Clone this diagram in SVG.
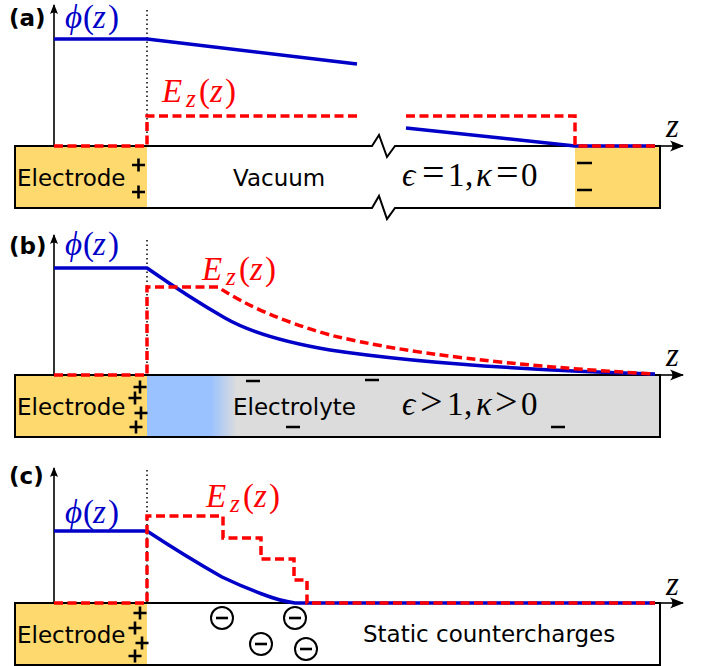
<svg xmlns="http://www.w3.org/2000/svg" width="703" height="666" viewBox="0 0 703 666">
<defs>
<style>
.box{fill:none;stroke:#000;stroke-width:2}
.elec{fill:#FDD96E}
.ax{fill:none;stroke:#000;stroke-width:1.6}
.dot{fill:none;stroke:#000;stroke-width:1.5;stroke-dasharray:1.5 3}
.phi{fill:none;stroke:#0000C8;stroke-width:3.5;stroke-linejoin:round}
.ef{fill:none;stroke:#FF0000;stroke-width:3.5;stroke-dasharray:9 4.5}
.sign{fill:none;stroke:#000;stroke-width:2.6}
.circ{fill:none;stroke:#000;stroke-width:2}
.lbl{font-family:"DejaVu Sans",Verdana,sans-serif;font-size:23px;fill:#000}
.pl{font-family:"DejaVu Sans",sans-serif;font-size:23px;font-weight:bold;fill:#000}
.m{font-family:"Liberation Serif","DejaVu Serif",serif;font-size:33px}
.it{font-style:italic}
.rel{font-size:40px}
.blue{fill:#0000C8}
.red{fill:#FF0000}
</style>
<marker id="arr" viewBox="-14 -6 16 12" refX="0" refY="0" markerWidth="16" markerHeight="12" markerUnits="userSpaceOnUse" orient="auto">
<path d="M1,0 L-13,-5.5 Q-8,0 -13,5.5 Z" fill="#000"/>
</marker>
<marker id="arrS" viewBox="-10 -5 12 10" refX="0" refY="0" markerWidth="12" markerHeight="10" markerUnits="userSpaceOnUse" orient="auto">
<path d="M1,0 L-9,-4 Q-6,0 -9,4 Z" fill="#000"/>
</marker>
<linearGradient id="grad" x1="147" y1="0" x2="660" y2="0" gradientUnits="userSpaceOnUse">
<stop offset="0" stop-color="#99C2FF"/>
<stop offset="0.123" stop-color="#99C2FF"/>
<stop offset="0.175" stop-color="#DCDCDC"/>
<stop offset="1" stop-color="#DCDCDC"/>
</linearGradient>
</defs>

<!-- Panel (a) -->
<g id="panel-a">
<g id="a-regions">
<path d="M15,146 L372,146 L379,135 L387,157 L395,146 L660,146 L660,208 L395,208 L387,219 L379,196 L372,208 L15,208 Z" fill="#fff"/>
<rect class="elec" x="15" y="146" width="132" height="62"/>
<rect class="elec" x="575" y="146" width="85" height="62"/>
<path class="box" d="M15,146 L372,146 L379,135 L387,157 L395,146 L660,146 L660,208 L395,208 L387,219 L379,196 L372,208 L15,208 Z"/>
</g>
<g id="a-axes">
<path class="ax" d="M54,146 V5" marker-end="url(#arrS)"/>
<path class="ax" d="M660,146 H683" marker-end="url(#arr)"/>
<path class="dot" d="M147,10 V146"/>
</g>
<g id="a-curves">
<path class="phi" d="M54,39 L147,39 L357,64"/>
<path class="phi" d="M406,128 L575,146 L655,146"/>
<path class="ef" d="M54,146 L147,146 L147,116 L357,116"/>
<path class="ef" d="M406,116 L575,116 L575,146 L655,146"/>
</g>
<g id="a-charges">
<path class="sign" d="M132,165 h13 M138.5,158.5 v13 M132,192 h13 M138.5,185.5 v13"/>
<path class="sign" d="M577,163 h15 M577,190 h15"/>
</g>
<g id="a-labels">
<text class="pl" x="9" y="26">(a)</text>
<text class="m blue"><tspan class="it" x="65" y="28">ϕ</tspan><tspan x="83">(</tspan><tspan class="it" x="93">z</tspan><tspan x="108">)</tspan></text>
<text class="m red"><tspan class="it" x="162" y="102">E</tspan><tspan class="it" x="186" y="107" font-size="25">z</tspan><tspan x="199" y="102">(</tspan><tspan class="it" x="210">z</tspan><tspan x="225">)</tspan></text>
<text class="m it" x="666" y="137" font-size="30">z</text>
<text class="lbl" x="17" y="186">Electrode</text>
<text class="lbl" x="233" y="186">Vacuum</text>
<text class="m" y="186"><tspan class="it" x="402">ϵ</tspan><tspan class="rel" x="422">=</tspan><tspan x="448">1</tspan><tspan x="465">,</tspan><tspan class="it" x="476">κ</tspan><tspan class="rel" x="496">=</tspan><tspan x="521">0</tspan></text>
</g>
</g>

<!-- Panel (b) -->
<g id="panel-b">
<g id="b-regions">
<rect class="elec" x="15" y="375" width="132" height="62"/>
<rect x="147" y="375" width="513" height="62" fill="url(#grad)"/>
<rect class="box" x="15" y="375" width="645" height="62"/>
</g>
<g id="b-axes">
<path class="ax" d="M54,375 V235" marker-end="url(#arrS)"/>
<path class="ax" d="M660,375 H683" marker-end="url(#arr)"/>
<path class="dot" d="M147,240 V375"/>
</g>
<g id="b-curves">
<path class="phi" d="M54,268 L147,268 Q190,298 225,318 Q260,338 330,350 Q450,368 655,374"/>
<path class="ef" d="M54,375 L147,375 L147,287 L218,287 Q260,315 330,335 Q440,362 655,374"/>
</g>
<g id="b-charges">
<path class="sign" d="M133.5,387 h13 M140,380.5 v13 M128.5,398 h13 M135,391.5 v13 M134.5,413 h13 M141,406.5 v13 M129.5,427 h13 M136,420.5 v13"/>
<path class="sign" d="M246,381 h14 M286,427 h14 M365,380 h14 M551,427 h14"/>
</g>
<g id="b-labels">
<text class="pl" x="9" y="254">(b)</text>
<text class="m blue"><tspan class="it" x="65" y="255">ϕ</tspan><tspan x="83">(</tspan><tspan class="it" x="93">z</tspan><tspan x="108">)</tspan></text>
<text class="m red"><tspan class="it" x="202" y="280">E</tspan><tspan class="it" x="226" y="285" font-size="25">z</tspan><tspan x="239" y="280">(</tspan><tspan class="it" x="250">z</tspan><tspan x="265">)</tspan></text>
<text class="m it" x="666" y="366" font-size="30">z</text>
<text class="lbl" x="17" y="415">Electrode</text>
<text class="lbl" x="233" y="415">Electrolyte</text>
<text class="m" y="415"><tspan class="it" x="402">ϵ</tspan><tspan class="rel" x="420">&gt;</tspan><tspan x="447">1</tspan><tspan x="464">,</tspan><tspan class="it" x="476">κ</tspan><tspan class="rel" x="495">&gt;</tspan><tspan x="521">0</tspan></text>
</g>
</g>

<!-- Panel (c) -->
<g id="panel-c">
<g id="c-regions">
<rect x="15" y="603" width="645" height="62" fill="#fff"/>
<rect class="elec" x="15" y="603" width="132" height="62"/>
<rect class="box" x="15" y="603" width="645" height="62"/>
</g>
<g id="c-axes">
<path class="ax" d="M54,603 V468" marker-end="url(#arrS)"/>
<path class="ax" d="M660,603 H683" marker-end="url(#arr)"/>
<path class="dot" d="M147,470 V603"/>
</g>
<g id="c-curves">
<path class="phi" d="M54,531 L147,531 Q185,556 222,577 Q243,587 262,594 Q280,601 295,603 L655,603"/>
<path class="ef" d="M54,603 L147,603 L147,516 L223,516 L223,538 L261,538 L261,559 L294,559 L294,580 L307,580 L307,603 L655,603"/>
</g>
<g id="c-charges">
<path class="sign" d="M133.5,613 h13 M140,606.5 v13 M128.5,628 h13 M135,621.5 v13 M135.5,643 h13 M142,636.5 v13 M128.5,656 h13 M135,649.5 v13"/>
<g id="cm1"><circle class="circ" cx="222" cy="618" r="11"/><path class="sign" d="M216,618 h12" stroke-width="3"/></g>
<g id="cm2"><circle class="circ" cx="295" cy="618" r="11"/><path class="sign" d="M289,618 h12" stroke-width="3"/></g>
<g id="cm3"><circle class="circ" cx="261" cy="644" r="11"/><path class="sign" d="M255,644 h12" stroke-width="3"/></g>
<g id="cm4"><circle class="circ" cx="306" cy="649" r="11"/><path class="sign" d="M300,649 h12" stroke-width="3"/></g>
</g>
<g id="c-labels">
<text class="pl" x="9" y="484">(c)</text>
<text class="m blue"><tspan class="it" x="65" y="523">ϕ</tspan><tspan x="83">(</tspan><tspan class="it" x="93">z</tspan><tspan x="108">)</tspan></text>
<text class="m red"><tspan class="it" x="206" y="507">E</tspan><tspan class="it" x="230" y="512" font-size="25">z</tspan><tspan x="243" y="507">(</tspan><tspan class="it" x="254">z</tspan><tspan x="269">)</tspan></text>
<text class="m it" x="666" y="595" font-size="30">z</text>
<text class="lbl" x="17" y="643">Electrode</text>
<text class="lbl" x="363" y="642">Static countercharges</text>
</g>
</g>
</svg>
